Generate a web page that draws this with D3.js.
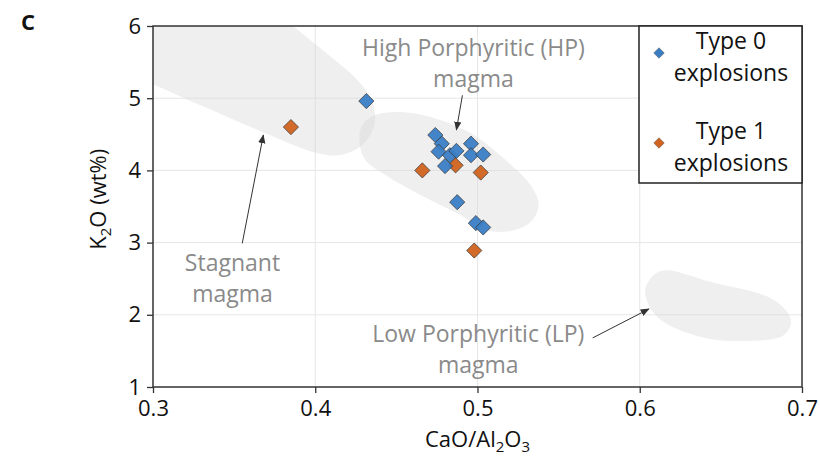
<!DOCTYPE html>
<html>
<head>
<meta charset="utf-8">
<script src="https://cdn.jsdelivr.net/npm/d3@7"></script>
<style>
  body { margin: 0; background: #fff; }
  text { font-family: "Open Sans", sans-serif; }
</style>
</head>
<body>
<svg width="820" height="464"></svg>
<script>
// ticks
var xTicks = [0.3, 0.4, 0.5, 0.6, 0.7];
var yTicks = [1, 2, 3, 4, 5, 6];

// Type 0 explosions [CaO/Al2O3, K2O]
var type0 = [
  [0.4315, 4.96], [0.474, 4.49], [0.478, 4.37], [0.476, 4.26], [0.483, 4.21],
  [0.487, 4.27], [0.496, 4.37], [0.496, 4.21], [0.5035, 4.22], [0.480, 4.06],
  [0.4875, 3.56], [0.499, 3.27], [0.5035, 3.21]
];
// Type 1 explosions
var type1 = [
  [0.385, 4.60], [0.466, 4.00], [0.4865, 4.07], [0.502, 3.97], [0.498, 2.89]
];

// shaded fields (outline in data units)
var stagnantField = [
  [0.24, 5.62], [0.2796, 5.377], [0.329, 4.906], [0.366, 4.546], [0.401, 4.241], [0.4154, 4.213],
  [0.429, 4.352], [0.4364, 4.629], [0.4352, 4.947], [0.426, 5.252], [0.409, 5.584],
  [0.3864, 6.0], [0.360, 6.5], [0.32, 7.0], [0.24, 7.0]
];
var hpField = [
  [0.429, 4.629], [0.437, 4.767], [0.4525, 4.809], [0.471, 4.74], [0.4957, 4.518],
  [0.5173, 4.144], [0.5327, 3.798], [0.5377, 3.521], [0.5327, 3.285], [0.5204, 3.161],
  [0.505, 3.174], [0.4895, 3.382], [0.4648, 3.659], [0.4432, 3.936], [0.4309, 4.144],
  [0.4272, 4.393]
];
var lpField = [
  [0.613, 2.607], [0.6438, 2.454], [0.6827, 2.205], [0.6932, 1.928], [0.6889, 1.72],
  [0.6642, 1.637], [0.6377, 1.693], [0.613, 1.928], [0.605, 2.163], [0.6037, 2.385]
];

// annotations: label lines, label anchor (first baseline), arrow from -> to
var notes = [
  { lines: ["High Porphyritic (HP)", "magma"], at: [0.4975, 5.59], from: [0.4907, 5.04], to: [0.487, 4.56] },
  { lines: ["Stagnant", "magma"], at: [0.349, 2.60], from: [0.355, 2.99], to: [0.368, 4.49] },
  { lines: ["Low Porphyritic (LP)", "magma"], at: [0.5005, 1.63], from: [0.571, 1.68], to: [0.6056, 2.08] }
];

var legendItems = ["Type 0", "Type 1"];
var colors = ["#3a7dc5", "#d0631f"];

var width = 820, height = 464;
var margin = { top: 26, right: 18, bottom: 77, left: 153 };

var x = d3.scaleLinear().domain([0.3, 0.7]).range([margin.left, width - margin.right]);
var y = d3.scaleLinear().domain([1, 6]).range([height - margin.bottom, margin.top]);

var svg = d3.select("svg");

svg.append("defs").append("clipPath").attr("id", "plotclip")
  .append("rect")
  .attr("x", x(0.3)).attr("y", y(6))
  .attr("width", x(0.7) - x(0.3)).attr("height", y(1) - y(6));

svg.select("defs").append("marker")
  .attr("id", "arrow")
  .attr("viewBox", "0 0 10 10")
  .attr("refX", 9).attr("refY", 5)
  .attr("markerWidth", 9).attr("markerHeight", 9)
  .attr("markerUnits", "userSpaceOnUse")
  .attr("orient", "auto")
  .append("path")
  .attr("d", "M0,1 L10,5 L0,9 Z")
  .attr("fill", "#333");

// grid
svg.append("g").selectAll("line")
  .data(xTicks.slice(1, -1)).join("line")
  .attr("x1", (d) => x(d)).attr("x2", (d) => x(d))
  .attr("y1", y(1)).attr("y2", y(6))
  .attr("stroke", "#e6e6e6").attr("stroke-width", 1);
svg.append("g").selectAll("line")
  .data(yTicks.slice(1, -1)).join("line")
  .attr("x1", x(0.3)).attr("x2", x(0.7))
  .attr("y1", (d) => y(d)).attr("y2", (d) => y(d))
  .attr("stroke", "#e6e6e6").attr("stroke-width", 1);

// shaded fields
var fieldLine = d3.line()
  .x((d) => x(d[0]))
  .y((d) => y(d[1]))
  .curve(d3.curveCatmullRomClosed.alpha(0.5));

svg.append("g").attr("clip-path", "url(#plotclip)")
  .selectAll("path")
  .data([stagnantField, hpField, lpField]).join("path")
  .attr("d", fieldLine)
  .attr("fill", "#d6d6d6")
  .attr("fill-opacity", 0.4);

// axes
var xAxis = d3.axisBottom(x).tickValues(xTicks).tickFormat(d3.format(".1f")).tickSize(6).tickPadding(7);
var yAxis = d3.axisLeft(y).tickValues(yTicks).tickFormat(d3.format("d")).tickSize(6).tickPadding(6);

var gx = svg.append("g").attr("transform", "translate(0," + y(1) + ")").call(xAxis);
var gy = svg.append("g").attr("transform", "translate(" + x(0.3) + ",0)").call(yAxis);
[gx, gy].forEach(function(g) {
  g.select(".domain").remove();
  g.selectAll(".tick line").attr("stroke", "#333").attr("stroke-width", 1.3);
  g.selectAll(".tick text")
    .attr("font-family", "Liberation Sans, Arial, sans-serif")
    .attr("font-size", 22)
    .attr("fill", "#111");
});

// frame
svg.append("rect")
  .attr("x", x(0.3)).attr("y", y(6))
  .attr("width", x(0.7) - x(0.3)).attr("height", y(1) - y(6))
  .attr("fill", "none").attr("stroke", "#333").attr("stroke-width", 1.5);

// points
var diamond = d3.symbol().type(d3.symbolSquare).size(115);
var diamondSmall = d3.symbol().type(d3.symbolSquare).size(55);

[type1, type0].forEach(function(series, i) {
  var c = i === 0 ? colors[1] : colors[0];
  svg.append("g").selectAll("path")
    .data(series).join("path")
    .attr("d", diamond)
    .attr("transform", (d) => "translate(" + x(d[0]) + "," + y(d[1]) + ") rotate(45)")
    .attr("fill", c)
    .attr("fill-opacity", 0.95)
    .attr("stroke", "#3a3a3a")
    .attr("stroke-width", 0.7);
});

// annotations
var ann = svg.append("g");
ann.selectAll("line")
  .data(notes).join("line")
  .attr("x1", (d) => x(d.from[0])).attr("y1", (d) => y(d.from[1]))
  .attr("x2", (d) => x(d.to[0])).attr("y2", (d) => y(d.to[1]))
  .attr("stroke", "#333").attr("stroke-width", 1)
  .attr("marker-end", "url(#arrow)");

ann.selectAll("text")
  .data(notes).join("text")
  .attr("text-anchor", "middle")
  .attr("font-size", 23)
  .attr("fill", "#8a8a8a")
  .each(function(d) {
    var t = d3.select(this);
    d.lines.forEach(function(l, k) {
      t.append("tspan")
        .attr("x", x(d.at[0]))
        .attr("y", y(d.at[1]) + k * 31)
        .text(l);
    });
  });

// legend
var leg = svg.append("g");
leg.append("rect")
  .attr("x", 639).attr("y", y(6))
  .attr("width", x(0.7) - 639).attr("height", 157)
  .attr("fill", "#fff").attr("stroke", "#222").attr("stroke-width", 1.5);

legendItems.forEach(function(name, i) {
  var top = y(6) + i * 90;
  leg.append("path")
    .attr("d", diamondSmall)
    .attr("transform", "translate(659," + (top + 27) + ") rotate(45)")
    .attr("fill", colors[i])
    .attr("stroke", "#555").attr("stroke-width", 0.5);
  var t = leg.append("text")
    .attr("text-anchor", "middle")
    .attr("font-size", 23)
    .attr("fill", "#111");
  t.append("tspan").attr("x", 731).attr("y", top + 23).text(name);
  t.append("tspan").attr("x", 731).attr("y", top + 55).text("explosions");
});

// axis titles
var xt = svg.append("text")
  .attr("x", x(0.5)).attr("y", 447)
  .attr("text-anchor", "middle")
  .attr("font-size", 22).attr("fill", "#111");
xt.append("tspan").text("CaO/Al");
xt.append("tspan").attr("font-size", 15).attr("dy", 5).text("2");
xt.append("tspan").attr("dy", -5).text("O");
xt.append("tspan").attr("font-size", 15).attr("dy", 5).text("3");

var yt = svg.append("text")
  .attr("transform", "translate(106," + y(3.6) + ") rotate(-90)")
  .attr("text-anchor", "middle")
  .attr("font-size", 22).attr("fill", "#111");
yt.append("tspan").text("K");
yt.append("tspan").attr("font-size", 15).attr("dy", 5).text("2");
yt.append("tspan").attr("dy", -5).text("O (wt%)");

// panel letter
svg.append("text")
  .attr("x", 21).attr("y", 30)
  .attr("font-family", "Liberation Sans, Arial, sans-serif")
  .attr("font-weight", "bold")
  .attr("font-size", 22)
  .attr("fill", "#111")
  .text("C");
</script>
</body>
</html>
